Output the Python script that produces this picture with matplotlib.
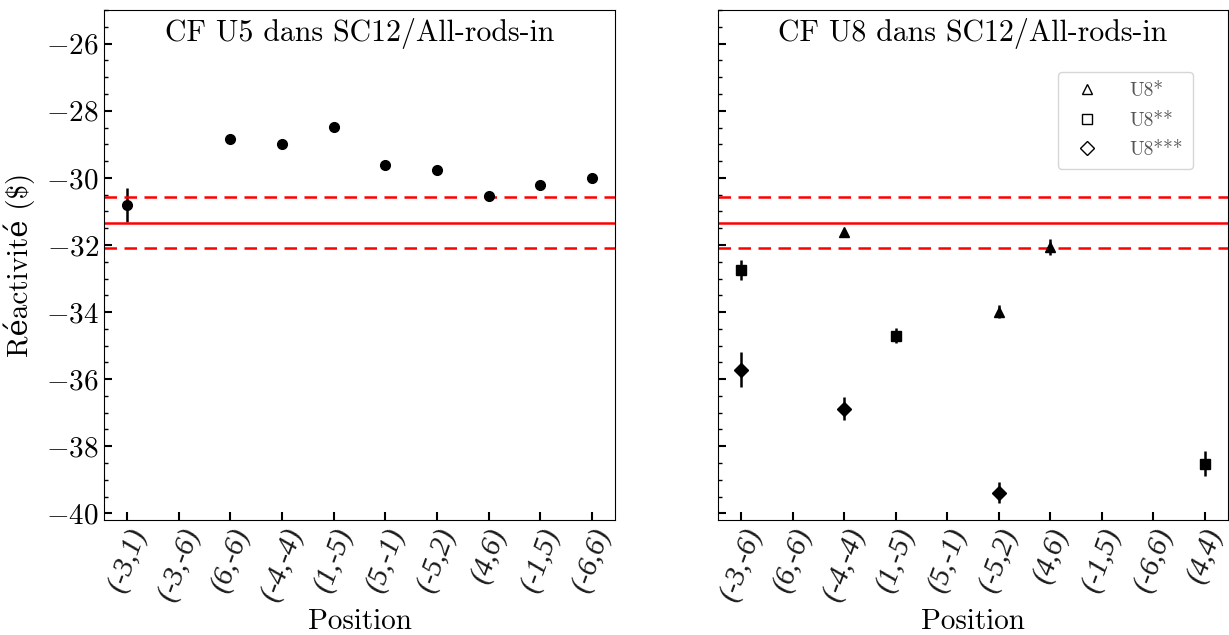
import numpy as np
import matplotlib
matplotlib.use('Agg')
import matplotlib.pyplot as plt
from matplotlib.ticker import MultipleLocator

plt.rcParams['font.family'] = ['cmr10', 'DejaVu Serif']
plt.rcParams['mathtext.fontset'] = 'cm'
plt.rcParams['axes.formatter.use_mathtext'] = True

# DATA
# reference value (red lines)
ref_value = -31.33
ref_err = 0.75

# left panel: U5
u5_positions = ['(-3,1)', '(-3,-6)', '(6,-6)', '(-4,-4)', '(1,-5)',
                '(5,-1)', '(-5,2)', '(4,6)', '(-1,5)', '(-6,6)']
u5_values = [-30.81, np.nan, -28.84, -28.99, -28.47,
             -29.61, -29.77, -30.53, -30.22, -29.99]
u5_errors = [0.50, np.nan, 0.03, 0.03, 0.03,
             0.03, 0.03, 0.03, 0.03, 0.03]

# right panel: U8
u8_positions = ['(-3,-6)', '(6,-6)', '(-4,-4)', '(1,-5)', '(5,-1)',
                '(-5,2)', '(4,6)', '(-1,5)', '(-6,6)', '(4,4)']
u8a_pos = ['(-4,-4)', '(-5,2)', '(4,6)']
u8a_values = [-31.62, -33.99, -32.07]
u8a_errors = [0.08, 0.20, 0.24]
u8b_pos = ['(-3,-6)', '(1,-5)', '(4,4)']
u8b_values = [-32.75, -34.70, -38.52]
u8b_errors = [0.29, 0.23, 0.38]
u8c_pos = ['(-3,-6)', '(-4,-4)', '(-5,2)']
u8c_values = [-35.72, -36.88, -39.38]
u8c_errors = [0.52, 0.34, 0.32]

FS = 21
tick_font = dict(family='Liberation Serif', style='italic', size=FS, color='#1a1a1a')

# PLOT
fig = plt.figure(figsize=(12.29, 6.35), dpi=100)
ax1 = fig.add_axes([0.0846, 0.181, 0.4158, 0.803])
ax2 = fig.add_axes([0.5843, 0.181, 0.415, 0.803], sharey=ax1)

def ref_lines(ax):
    ax.axhline(ref_value, color='red', lw=1.8)
    ax.axhline(ref_value + ref_err, color='red', lw=1.8, ls='--', dashes=(5, 3))
    ax.axhline(ref_value - ref_err, color='red', lw=1.8, ls='--', dashes=(5, 3))

# left
x1 = np.arange(len(u5_positions))
ax1.errorbar(x1, u5_values, yerr=u5_errors, fmt='o', color='black',
             ms=7, elinewidth=1.8, capsize=0)
ref_lines(ax1)
ax1.set_xticks(x1)
ax1.set_xticklabels(u5_positions, rotation=70, fontdict=tick_font)
ax1.text(0.5, 0.955, 'CF U5 dans SC12/All-rods-in', transform=ax1.transAxes,
         ha='center', va='center', fontsize=21.5)
ax1.set_xlabel('Position', fontsize=FS, labelpad=3)
ax1.set_ylabel('Réactivité ($)', fontsize=FS, labelpad=8)

# right
def idx(names):
    return [u8_positions.index(n) for n in names]

x2 = np.arange(len(u8_positions))
ax2.errorbar(idx(u8a_pos), u8a_values, yerr=u8a_errors, fmt='^', color='black',
             ms=7, elinewidth=1.8, capsize=0)
ax2.errorbar(idx(u8b_pos), u8b_values, yerr=u8b_errors, fmt='s', color='black',
             ms=6.5, elinewidth=1.8, capsize=0)
ax2.errorbar(idx(u8c_pos), u8c_values, yerr=u8c_errors, fmt='D', color='black',
             ms=7, elinewidth=1.8, capsize=0)
ref_lines(ax2)
ax2.set_xticks(x2)
ax2.set_xticklabels(u8_positions, rotation=70, fontdict=tick_font)
ax2.text(0.5, 0.955, 'CF U8 dans SC12/All-rods-in', transform=ax2.transAxes,
         ha='center', va='center', fontsize=21.5)
ax2.set_xlabel('Position', fontsize=FS, labelpad=3)
plt.setp(ax2.get_yticklabels(), visible=False)

# legend with open markers
h1, = ax2.plot([], [], '^', mfc='none', mec='black', ms=7)
h2, = ax2.plot([], [], 's', mfc='none', mec='black', ms=7)
h3, = ax2.plot([], [], 'D', mfc='none', mec='black', ms=7)
ax2.legend([h1, h2, h3], ['U8*', 'U8**', 'U8***'], loc='upper right',
           bbox_to_anchor=(0.931, 0.878), borderaxespad=0, fontsize=14,
           handletextpad=1.2, labelcolor='#555555', borderpad=0.5,
           labelspacing=0.6)

for ax in (ax1, ax2):
    ax.set_ylim(-40.2, -25)
    ax.set_xlim(-0.45, 9.45)
    ax.yaxis.set_major_locator(MultipleLocator(2))
    ax.yaxis.set_minor_locator(MultipleLocator(0.5))
    ax.tick_params(axis='y', which='major', direction='in', length=6, width=1.5, labelsize=FS)
    ax.tick_params(axis='y', which='minor', direction='in', length=3, width=1)
    ax.tick_params(axis='x', which='major', direction='in', length=6, width=1.5, pad=3)

fig.savefig('out.png', dpi=100)
